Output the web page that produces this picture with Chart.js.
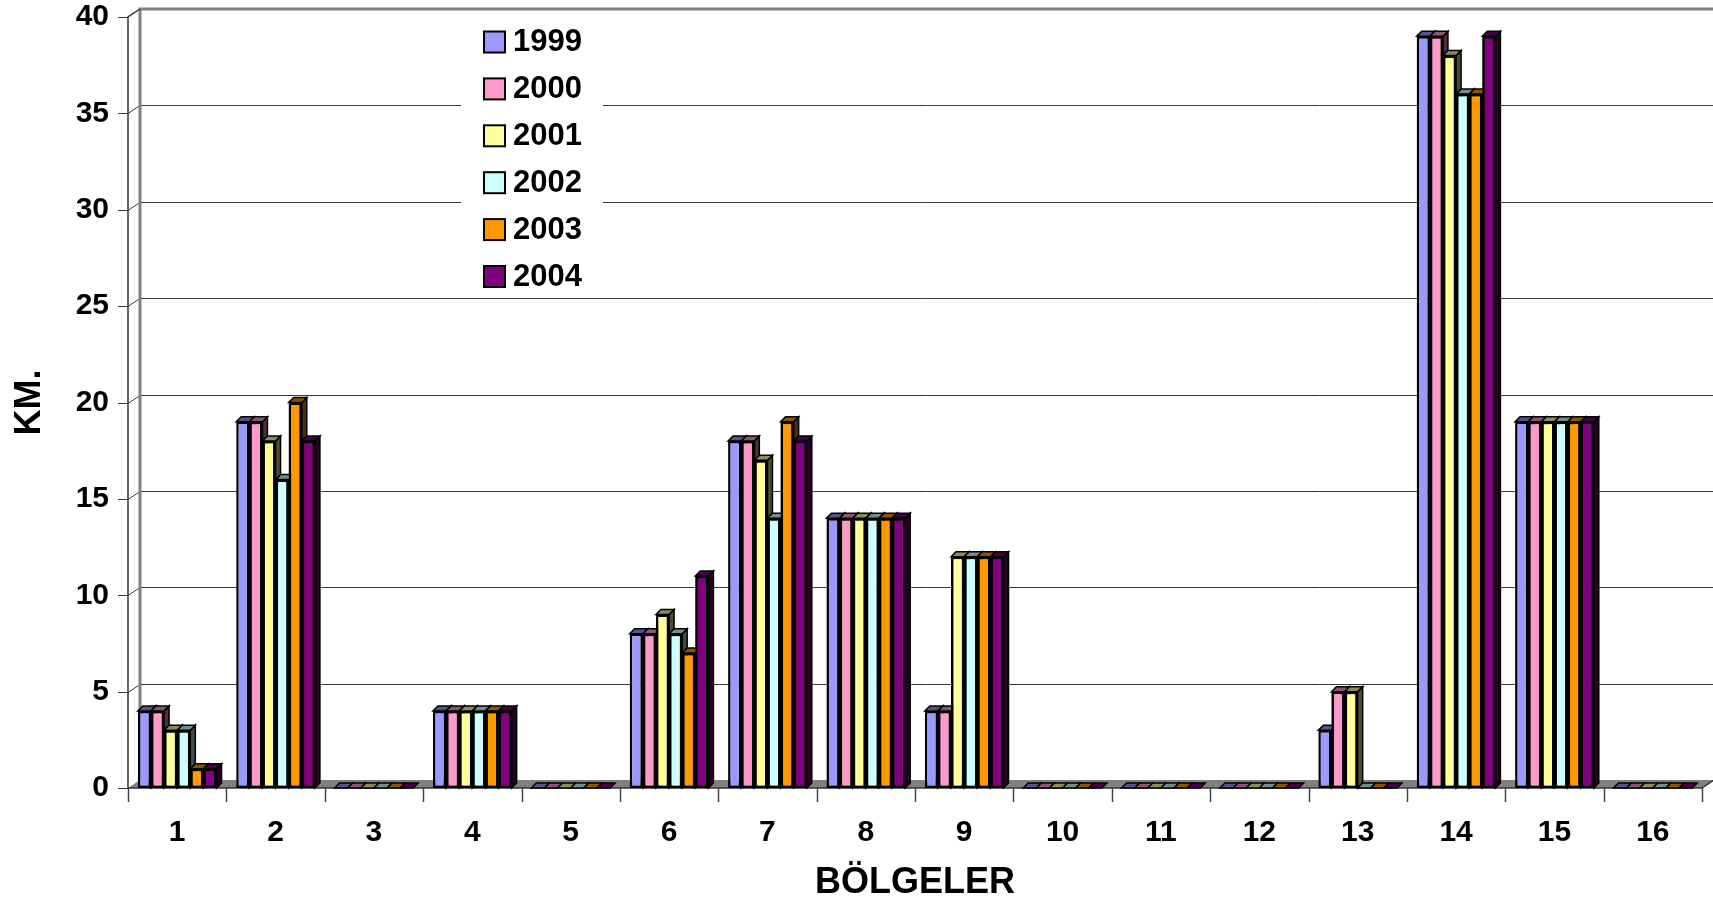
<!DOCTYPE html>
<html><head><meta charset="utf-8">
<script src="https://cdn.jsdelivr.net/npm/chart.js@4/dist/chart.umd.min.js"></script>
<style>html,body{margin:0;padding:0;background:#fff;} #wrap{width:1713px;height:903px;}</style>
</head><body><div id="wrap"><canvas id="c" width="1713" height="903"></canvas></div>
<script>
const categories = ['1','2','3','4','5','6','7','8','9','10','11','12','13','14','15','16'];
const years = ['1999','2000','2001','2002','2003','2004'];
const v1999 = [4,19,0,4,0,8,18,14,4,0,0,0,3,39,19,0];
const v2000 = [4,19,0,4,0,8,18,14,4,0,0,0,5,39,19,0];
const v2001 = [3,18,0,4,0,9,17,14,12,0,0,0,5,38,19,0];
const v2002 = [3,16,0,4,0,8,14,14,12,0,0,0,0,36,19,0];
const v2003 = [1,20,0,4,0,7,19,14,12,0,0,0,0,36,19,0];
const v2004 = [1,18,0,4,0,11,18,14,12,0,0,0,0,39,19,0];
const seriesValues = [v1999, v2000, v2001, v2002, v2003, v2004];
const yTicks = [0,5,10,15,20,25,30,35,40];
const colors = ['#9999FF','#FF99CC','#FFFF99','#CCFFFF','#FF9900','#800080'];

const FONT = '"Liberation Sans", Arial, sans-serif';
const DX = 12, DY = 8;   // wall depth
const BD = 5;            // bar depth

function shade(hex, f) {
  const n = parseInt(hex.slice(1), 16);
  const r = Math.round(((n >> 16) & 255) * f), g = Math.round(((n >> 8) & 255) * f), b = Math.round((n & 255) * f);
  return `rgb(${r},${g},${b})`;
}

const wallPlugin = {
  id: 'wall',
  beforeDatasetsDraw(chart) {
    const {ctx, chartArea: ca} = chart;
    const ys = chart.scales.y;
    const W = chart.width;
    ctx.save();
    ctx.lineWidth = 1;
    ctx.strokeStyle = '#3a3a3a';
    yTicks.forEach(v => {
      if (v === 0 || v === 40) return;
      const y = Math.round(ys.getPixelForValue(v)) + 0.5;
      ctx.beginPath();
      ctx.moveTo(ca.left, y);
      ctx.lineTo(ca.left + DX, y - DY);
      ctx.lineTo(W, y - DY);
      ctx.stroke();
    });
    const yb = ys.getPixelForValue(0);
    ctx.fillStyle = '#808080';
    ctx.beginPath();
    ctx.moveTo(ca.left, yb);
    ctx.lineTo(ca.right, yb);
    ctx.lineTo(ca.right + DX, yb - DY);
    ctx.lineTo(ca.left + DX, yb - DY);
    ctx.closePath();
    ctx.fill();
    const yt = ys.getPixelForValue(40);
    ctx.strokeStyle = '#808080';
    ctx.lineWidth = 3;
    ctx.beginPath();
    ctx.moveTo(ca.left + DX, yb - DY);
    ctx.lineTo(ca.left + DX, yt - DY);
    ctx.lineTo(W, yt - DY);
    ctx.stroke();
    ctx.strokeStyle = '#333';
    ctx.lineWidth = 1.5;
    ctx.beginPath();
    ctx.moveTo(ca.left + DX, yt - DY);
    ctx.lineTo(ca.left, yt);
    ctx.lineTo(ca.left, yb);
    ctx.lineTo(ca.right, yb);
    ctx.lineTo(ca.right + DX, yb - DY);
    ctx.stroke();
    ctx.lineWidth = 1;
    yTicks.forEach(v => {
      const y = Math.round(ys.getPixelForValue(v)) + 0.5;
      ctx.beginPath();
      ctx.moveTo(ca.left - 10, y);
      ctx.lineTo(ca.left, y);
      ctx.stroke();
    });
    const cw = (ca.right - ca.left) / categories.length;
    ctx.strokeStyle = '#444';
    ctx.lineWidth = 1.5;
    for (let i = 0; i <= categories.length; i++) {
      const x = Math.round(ca.left + i * cw) + 0.5;
      ctx.beginPath();
      ctx.moveTo(x, yb);
      ctx.lineTo(x, yb + 14);
      ctx.stroke();
    }
    ctx.restore();
  }
};

const bar3dPlugin = {
  id: 'bar3d',
  afterDatasetsDraw(chart) {
    const ctx = chart.ctx;
    const n = chart.data.datasets.length;
    ctx.save();
    for (let i = 0; i < n; i++) {
      const meta = chart.getDatasetMeta(i);
      const col = colors[i];
      meta.data.forEach(el => {
        const {x, y, base, width} = el.getProps(['x','y','base','width'], true);
        const l = x - width / 2, r = x + width / 2;
        ctx.lineWidth = 1.5;
        ctx.strokeStyle = '#000';
        if (base - y > 0.5) {
          ctx.fillStyle = shade(col, 0.3);
          ctx.beginPath();
          ctx.moveTo(r, y);
          ctx.lineTo(r + BD, y - BD);
          ctx.lineTo(r + BD, base - BD);
          ctx.lineTo(r, base);
          ctx.closePath();
          ctx.fill(); ctx.stroke();
        }
        ctx.fillStyle = shade(col, 0.55);
        ctx.beginPath();
        ctx.moveTo(l, y);
        ctx.lineTo(r, y);
        ctx.lineTo(r + BD, y - BD);
        ctx.lineTo(l + BD, y - BD);
        ctx.closePath();
        ctx.fill(); ctx.stroke();
      });
      if (i + 1 < n) {
        chart.getDatasetMeta(i + 1).data.forEach(el => el.draw(ctx, chart.chartArea));
      }
    }
    ctx.restore();
  }
};

const legendPlugin = {
  id: 'customLegend',
  afterDraw(chart) {
    const ctx = chart.ctx;
    ctx.save();
    ctx.fillStyle = '#fff';
    ctx.fillRect(461, 15, 142, 277);
    chart.data.datasets.forEach((ds, i) => {
      const cy = 41.5 + i * 46.9;
      ctx.fillStyle = ds.backgroundColor;
      ctx.fillRect(484, cy - 10, 21, 21);
      ctx.strokeStyle = '#000';
      ctx.lineWidth = 2;
      ctx.strokeRect(484, cy - 10, 21, 21);
      ctx.fillStyle = '#000';
      ctx.font = 'bold 31px ' + FONT;
      ctx.textBaseline = 'middle';
      ctx.textAlign = 'left';
      ctx.fillText(ds.label, 513, cy + 1);
    });
    ctx.restore();
  }
};

new Chart(document.getElementById('c'), {
  type: 'bar',
  data: {
    labels: categories,
    datasets: years.map((yr, i) => ({
      label: yr,
      data: seriesValues[i],
      backgroundColor: colors[i],
      borderColor: '#000',
      borderWidth: 2.5,
      borderSkipped: false,
      categoryPercentage: 0.8,
      barPercentage: 1.0
    }))
  },
  options: {
    responsive: false,
    animation: false,
    events: [],
    layout: {padding: {top: 17, right: 11, left: 0, bottom: 0}},
    plugins: {legend: {display: false}, tooltip: {enabled: false}},
    scales: {
      x: {
        grid: {display: false, drawTicks: false},
        border: {display: false},
        ticks: {color: '#000', font: {family: FONT, weight: 'bold', size: 30, lineHeight: 1.0}, padding: 30, maxRotation: 0, autoSkip: false},
        title: {display: true, text: 'BÖLGELER', color: '#000', font: {family: FONT, weight: 'bold', size: 36, lineHeight: 1.1}, padding: {top: 0, bottom: 0}},
        afterFit(s) { s.height = 115; s.paddingLeft = 0; s.paddingRight = 0; }
      },
      y: {
        min: 0, max: 40,
        grid: {display: false, drawTicks: false},
        border: {display: false},
        ticks: {stepSize: 5, color: '#000', font: {family: FONT, weight: 'bold', size: 30, lineHeight: 1.0}, padding: 19},
        title: {display: true, text: 'KM.', color: '#000', font: {family: FONT, weight: 'bold', size: 36, lineHeight: 1.2}, padding: {top: 8, bottom: 0}},
        afterFit(s) { s.width = 128; s.paddingTop = 0; s.paddingBottom = 0; }
      }
    }
  },
  plugins: [wallPlugin, bar3dPlugin, legendPlugin]
});
</script>
</body></html>
